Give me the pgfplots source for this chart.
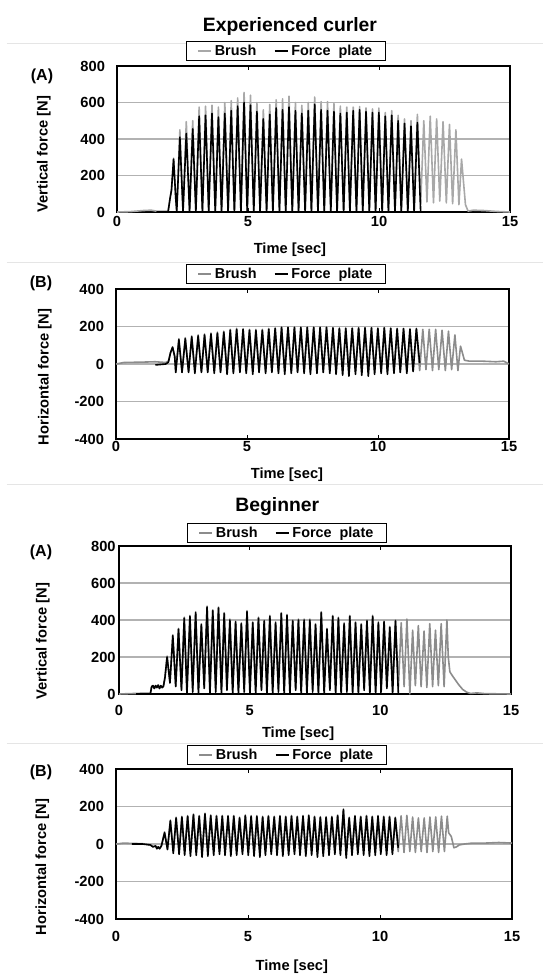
\documentclass[border=0pt]{standalone}
\usepackage{fontspec}
\setmainfont{Liberation Sans}
\usepackage{pgfplots}
\usepackage{pgfplotstable}
\pgfplotsset{compat=1.18}

\definecolor{brushA}{HTML}{A8A8A8}
\definecolor{brushB}{HTML}{8C8C8C}

% experienced curler, vertical force: t, brush, force plate
\pgfplotstableread{
t b f
0.00 0 nan
0.50 2 nan
1.00 8 nan
1.30 10 nan
1.50 5 0
1.95 5 0
2.02 70 70
2.08 125 120
2.16 295 290
2.24 80 80
2.28 10 0
2.400 450 410
2.52 10 0
2.645 495 430
2.77 10 0
2.890 500 455
3.01 10 0
3.135 575 525
3.26 10 0
3.380 580 530
3.50 10 0
3.625 585 540
3.75 10 0
3.870 575 520
3.99 10 0
4.115 600 540
4.24 10 0
4.360 610 555
4.48 10 0
4.605 625 580
4.73 10 0
4.850 655 600
4.97 10 0
5.095 640 585
5.22 10 0
5.340 600 550
5.46 10 0
5.585 560 510
5.71 10 0
5.830 590 535
5.95 10 0
6.075 615 570
6.20 10 0
6.320 620 560
6.44 10 0
6.565 635 575
6.69 10 0
6.810 600 555
6.93 10 0
7.055 585 540
7.18 10 0
7.300 600 555
7.42 10 0
7.545 630 590
7.67 10 0
7.790 605 560
7.91 10 0
8.035 605 555
8.16 10 0
8.280 595 550
8.40 10 0
8.525 580 540
8.65 10 0
8.770 575 545
8.89 10 0
9.015 575 555
9.14 10 0
9.260 578 560
9.38 10 0
9.505 570 550
9.63 10 0
9.750 565 545
9.87 10 0
9.995 570 545
10.12 10 0
10.240 545 525
10.36 10 0
10.485 555 530
10.61 10 0
10.730 530 500
10.85 10 0
10.975 510 485
11.10 10 0
11.220 500 470
11.34 15 0
11.465 535 490
11.59 40 0
11.710 500 nan
11.83 55 nan
11.955 525 nan
12.08 50 nan
12.200 510 nan
12.32 60 nan
12.445 495 nan
12.57 50 nan
12.690 480 nan
12.81 45 nan
12.935 450 nan
13.05 40 nan
13.15 290 nan
13.30 40 nan
13.40 5 nan
13.60 10 nan
14.00 8 nan
14.50 3 nan
15.00 0 nan
}\tabA

% experienced curler, horizontal force
\pgfplotstableread{
t b f
0.00 0 nan
0.30 8 nan
1.00 10 nan
1.50 12 -5
1.90 8 0
2.00 15 10
2.08 60 60
2.16 90 90
2.24 40 40
2.28 -40 -45
2.400 135 130
2.52 -40 -45
2.645 140 135
2.77 -40 -45
2.890 150 145
3.01 -40 -50
3.135 155 150
3.26 -40 -45
3.380 160 155
3.50 -40 -45
3.625 165 160
3.75 -40 -50
3.870 170 165
3.99 -40 -45
4.115 175 170
4.24 -40 -55
4.360 185 180
4.48 -40 -50
4.605 190 185
4.73 -40 -45
4.850 188 185
4.97 -40 -50
5.095 185 180
5.22 -40 -55
5.340 185 180
5.46 -40 -45
5.585 185 180
5.71 -40 -50
5.830 190 185
5.95 -40 -45
6.075 192 190
6.20 -40 -50
6.320 198 195
6.44 -40 -55
6.565 198 195
6.69 -40 -50
6.810 198 195
6.93 -40 -45
7.055 198 195
7.18 -40 -50
7.300 198 195
7.42 -40 -55
7.545 198 195
7.67 -40 -50
7.790 198 195
7.91 -40 -45
8.035 198 195
8.16 -40 -50
8.280 195 192
8.40 -40 -55
8.525 192 190
8.65 -40 -60
8.770 192 190
8.89 -40 -65
9.015 192 190
9.14 -40 -55
9.260 195 192
9.38 -40 -60
9.505 195 192
9.63 -40 -65
9.750 195 192
9.87 -40 -55
9.995 192 190
10.12 -40 -50
10.240 195 192
10.36 -40 -55
10.485 192 190
10.61 -40 -50
10.730 190 188
10.85 -40 -45
10.975 190 188
11.10 -40 -50
11.220 188 185
11.34 -40 -40
11.465 190 188
11.59 -35 5
11.710 185 nan
11.83 -30 nan
11.955 185 nan
12.08 -35 nan
12.200 185 nan
12.32 -30 nan
12.445 180 nan
12.57 -35 nan
12.690 175 nan
12.81 -30 nan
12.935 155 nan
13.05 -35 nan
13.15 95 nan
13.30 20 nan
13.50 15 nan
14.00 15 nan
14.50 12 nan
14.80 15 nan
15.00 0 nan
}\tabB

% beginner, vertical force
\pgfplotstableread{
t b f
0.00 0 nan
0.40 2 nan
0.66 3 0
1.00 5 0
1.20 5 0
1.25 40 40
1.30 45 45
1.35 30 30
1.40 45 45
1.45 35 35
1.50 48 48
1.55 30 30
1.60 45 45
1.65 35 35
1.70 42 42
1.76 90 90
1.840 205 200
1.95 60 60
2.059 320 315
2.17 45 40
2.277 355 350
2.39 30 20
2.496 415 410
2.60 30 0
2.714 425 420
2.82 30 10
2.933 445 440
3.04 30 0
3.151 380 375
3.26 40 30
3.370 475 470
3.48 30 0
3.588 455 450
3.70 30 10
3.807 470 465
3.92 30 0
4.025 440 435
4.13 35 20
4.244 405 400
4.35 30 0
4.462 395 390
4.57 30 0
4.681 385 380
4.79 30 10
4.899 450 445
5.01 30 0
5.118 390 385
5.23 30 0
5.336 415 410
5.45 30 20
5.555 400 395
5.66 30 0
5.773 425 420
5.88 30 0
5.992 390 385
6.10 30 10
6.210 440 435
6.32 30 0
6.429 430 425
6.54 30 0
6.647 400 395
6.76 30 20
6.866 405 400
6.97 30 0
7.084 405 400
7.19 30 0
7.303 405 400
7.41 30 10
7.521 380 375
7.63 30 0
7.740 445 440
7.85 30 0
7.958 355 350
8.07 30 20
8.177 425 420
8.29 30 0
8.395 415 410
8.50 30 0
8.614 385 380
8.72 30 10
8.832 425 420
8.94 30 0
9.051 390 385
9.16 30 0
9.269 380 375
9.38 30 20
9.488 400 395
9.60 30 0
9.706 425 420
9.82 30 0
9.925 390 385
10.03 30 10
10.143 395 390
10.25 35 30
10.362 365 360
10.47 30 0
10.580 400 395
10.69 30 0
10.799 385 nan
10.91 40 nan
11.017 405 nan
11.13 0 nan
11.236 345 nan
11.34 45 nan
11.454 370 nan
11.56 40 nan
11.673 340 nan
11.78 35 nan
11.891 380 nan
12.00 40 nan
12.110 345 nan
12.22 45 nan
12.328 380 nan
12.44 40 nan
12.547 400 nan
12.60 200 nan
12.66 120 nan
12.75 100 nan
12.85 80 nan
13.00 50 nan
13.15 25 nan
13.30 10 nan
13.45 3 nan
13.70 6 nan
14.00 2 nan
15.00 0 nan
}\tabC

% beginner, horizontal force
\pgfplotstableread{
t b f
0.00 0 nan
0.30 5 nan
0.60 3 0
1.00 2 0
1.30 -5 -5
1.40 -15 -15
1.50 -10 -10
1.55 -25 -25
1.60 -15 -15
1.65 -25 -25
1.72 -10 -10
1.840 65 60
1.95 -25 -30
2.059 128 124
2.17 -40 -50
2.277 143 139
2.39 -40 -55
2.496 148 144
2.60 -40 -60
2.714 152 148
2.82 -40 -65
2.933 160 156
3.04 -40 -60
3.151 152 148
3.26 -40 -70
3.370 164 160
3.48 -40 -65
3.588 155 151
3.70 -40 -60
3.807 152 148
3.92 -40 -55
4.025 152 148
4.13 -40 -60
4.244 152 148
4.35 -40 -65
4.462 152 148
4.57 -40 -60
4.681 143 139
4.79 -40 -55
4.899 155 151
5.01 -40 -60
5.118 152 148
5.23 -40 -65
5.336 152 148
5.45 -40 -70
5.555 148 144
5.66 -40 -60
5.773 152 148
5.88 -40 -55
5.992 148 144
6.10 -40 -60
6.210 152 148
6.32 -40 -65
6.429 148 144
6.54 -40 -60
6.647 152 148
6.76 -40 -55
6.866 148 144
6.97 -40 -60
7.084 152 148
7.19 -40 -65
7.303 155 151
7.41 -40 -60
7.521 148 144
7.63 -40 -70
7.740 146 142
7.85 -40 -65
7.958 146 142
8.07 -40 -60
8.177 148 144
8.29 -40 -55
8.395 155 151
8.50 -40 -60
8.614 187 183
8.72 -40 -75
8.832 143 139
8.94 -40 -60
9.051 152 148
9.16 -40 -55
9.269 148 144
9.38 -40 -60
9.488 152 148
9.60 -40 -65
9.706 148 144
9.82 -40 -60
9.925 152 148
10.03 -40 -55
10.143 148 144
10.25 -40 -60
10.362 148 144
10.47 -40 -55
10.580 143 139
10.69 -40 -20
10.799 150 nan
10.91 -45 nan
11.017 153 nan
11.13 -40 nan
11.236 144 nan
11.34 -45 nan
11.454 139 nan
11.56 -40 nan
11.673 139 nan
11.78 -45 nan
11.891 144 nan
12.00 -40 nan
12.110 144 nan
12.22 -45 nan
12.328 148 nan
12.44 -40 nan
12.547 148 nan
12.60 60 nan
12.70 40 nan
12.80 -20 nan
12.90 -15 nan
13.00 -5 nan
13.20 0 nan
13.50 5 nan
14.00 5 nan
14.50 8 nan
15.00 5 nan
}\tabD

\pgfplotsset{
  curl/.style={
    scale only axis,
    anchor=south west,
    xmin=0, xmax=15, xtick={0,5,10,15},
    axis line style={line width=1.1pt},
    tick align=inside, major tick length=3pt,
    xtick style={line width=0.6pt, black},
    ytick style={draw=none},
    ymajorgrids, grid style={line width=0.8pt, black!30},
    tick label style={font=\fontsize{11}{12}\selectfont\bfseries,
      /pgf/number format/assume math mode=true},
    label style={font=\fontsize{11}{12}\selectfont\bfseries},
    xlabel={Time [sec]},
    legend columns=2,
    legend style={draw=black, line width=0.8pt, anchor=south,
      font=\fontsize{10.8}{12}\selectfont\bfseries,
      inner xsep=8pt, inner ysep=0.3pt,
      /tikz/every even column/.append style={column sep=11pt}},
    legend image code/.code={\draw[#1] (0pt,0pt) -- (10pt,0pt);},
  },
  sig/.style={line width=1.2pt, line join=round},
}

\begin{document}
\begin{tikzpicture}
\path[use as bounding box] (0pt,0pt) rectangle (407.25pt,-732.75pt);
\draw[black!10, line width=0.5pt] (5pt,-32.25pt) -- (407.25pt,-32.25pt);
\draw[black!10, line width=0.5pt] (5pt,-196.5pt) -- (407.25pt,-196.5pt);
\draw[black!10, line width=0.5pt] (5pt,-363pt) -- (407.25pt,-363pt);
\draw[black!10, line width=0.5pt] (5pt,-557.25pt) -- (407.25pt,-557.25pt);

\node[anchor=base, font=\fontsize{14.5}{16}\selectfont\bfseries] at (217.5pt,-23.75pt) {Experienced curler};
\node[anchor=base, font=\fontsize{14.5}{16}\selectfont\bfseries] at (208pt,-383.75pt) {Beginner};

\node[font=\fontsize{12}{14}\selectfont\bfseries] at (31.5pt,-57pt) {(A)};
\node[font=\fontsize{12}{14}\selectfont\bfseries] at (30.75pt,-212.25pt) {(B)};
\node[font=\fontsize{12}{14}\selectfont\bfseries] at (30.75pt,-414pt) {(A)};
\node[font=\fontsize{12}{14}\selectfont\bfseries] at (30.75pt,-579pt) {(B)};

% (A) experienced
\begin{axis}[curl, at={(87.75pt,-159pt)}, width=294.75pt, height=109.5pt,
  ymin=0, ymax=800, ytick={0,200,400,600,800},
  yticklabel style={xshift=-5.5pt},
  ylabel={Vertical force [N]},
  ylabel style={at={(axis description cs:-0.186,0.397)}, anchor=center},
  xlabel style={at={(axis description cs:0.44,-0.26)}, anchor=center},
  legend style={at={(axis description cs:0.43,1)}, yshift=3.75pt}]
\addplot[sig, brushA] table[x=t, y=b] {\tabA};
\addlegendentry{Brush}
\addplot[sig, black] table[x=t, y=f] {\tabA};
\addlegendentry{Force\ \ plate}
\end{axis}

% (B) experienced
\begin{axis}[curl, at={(87pt,-329.25pt)}, width=294.75pt, height=112.5pt,
  ymin=-400, ymax=400, ytick={-400,-200,0,200,400},
  yticklabel style={xshift=-5.5pt},
  xticklabel style={yshift=1.5pt},
  ylabel={Horizontal force [N]},
  ylabel style={at={(axis description cs:-0.181,0.413)}, anchor=center},
  xlabel style={at={(axis description cs:0.435,-0.24)}, anchor=center},
  legend style={at={(axis description cs:0.433,1)}, yshift=3.75pt}]
\addplot[sig, brushB] table[x=t, y=b] {\tabB};
\addlegendentry{Brush}
\addplot[sig, black] table[x=t, y=f] {\tabB};
\addlegendentry{Force\ \ plate}
\end{axis}

% (A) beginner
\begin{axis}[curl, at={(89.25pt,-520.5pt)}, width=294pt, height=111pt,
  ymin=0, ymax=800, ytick={0,200,400,600,800},
  yticklabel style={xshift=1pt},
  xticklabel style={yshift=-5pt},
  ylabel={Vertical force [N]},
  ylabel style={at={(axis description cs:-0.194,0.358)}, anchor=center},
  xlabel style={at={(axis description cs:0.457,-0.27)}, anchor=center},
  legend style={at={(axis description cs:0.429,1)}, yshift=2.25pt}]
\addplot[sig, brushB] table[x=t, y=b] {\tabC};
\addlegendentry{Brush}
\addplot[sig, black] table[x=t, y=f] {\tabC};
\addlegendentry{Force\ \ plate}
\end{axis}

% (B) beginner
\begin{axis}[curl, at={(87pt,-689.25pt)}, width=297pt, height=112.5pt,
  ymin=-400, ymax=400, ytick={-400,-200,0,200,400},
  yticklabel style={xshift=-5.5pt},
  xticklabel style={yshift=-6pt},
  ylabel={Horizontal force [N]},
  ylabel style={at={(axis description cs:-0.186,0.347)}, anchor=center},
  xlabel style={at={(axis description cs:0.444,-0.32)}, anchor=center},
  legend style={at={(axis description cs:0.432,1)}, yshift=3pt}]
\addplot[sig, brushB] table[x=t, y=b] {\tabD};
\addlegendentry{Brush}
\addplot[sig, black] table[x=t, y=f] {\tabD};
\addlegendentry{Force\ \ plate}
\end{axis}
\end{tikzpicture}
\end{document}
